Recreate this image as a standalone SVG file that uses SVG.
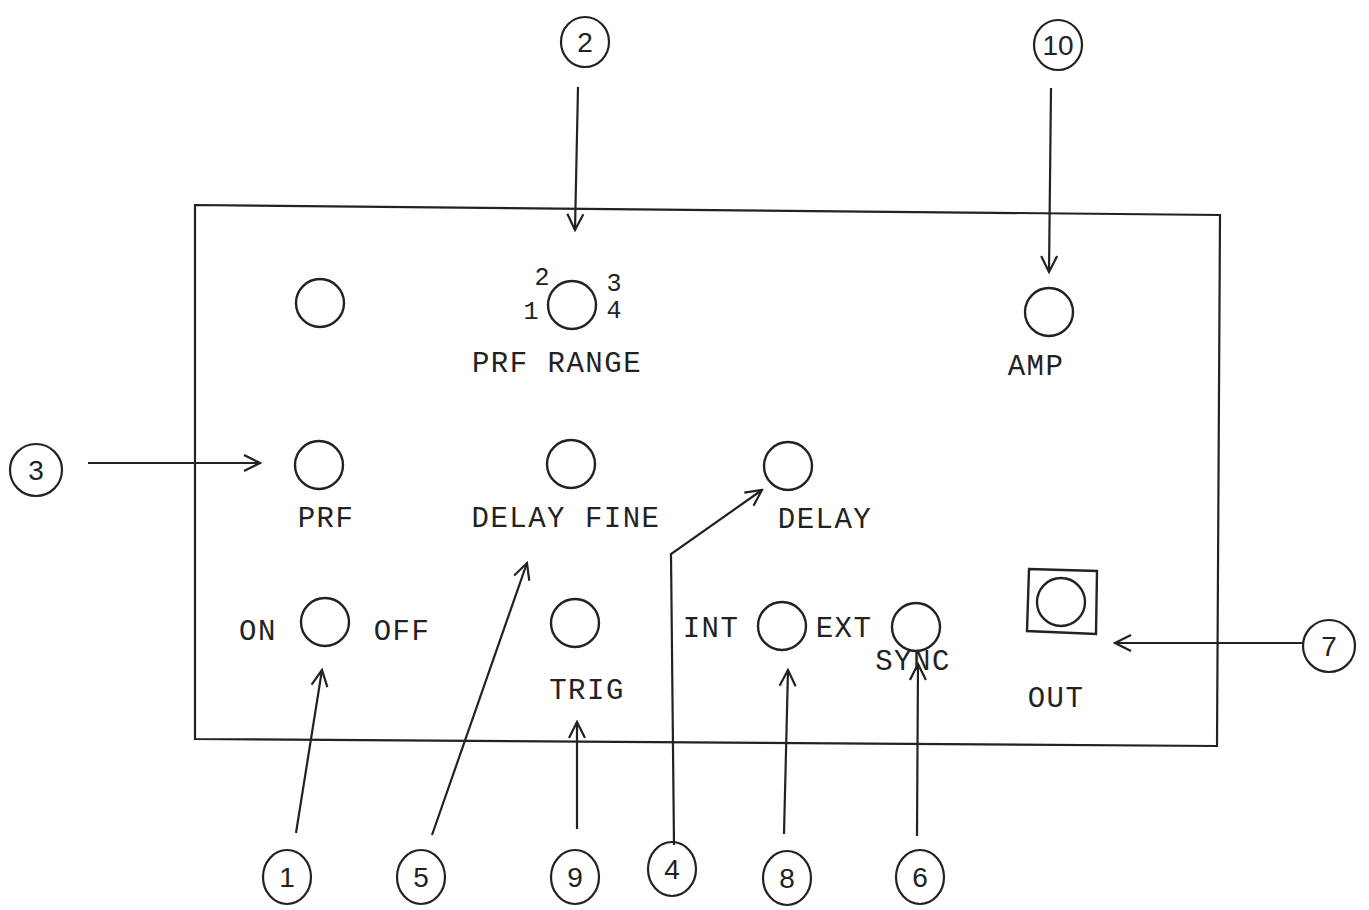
<svg xmlns="http://www.w3.org/2000/svg" width="1369" height="910" viewBox="0 0 1369 910">
<defs>
<marker id="ah" viewBox="0 0 20 20" refX="18" refY="10" markerWidth="20" markerHeight="20" markerUnits="userSpaceOnUse" orient="auto">
<path d="M2,2 L18,10 L2,18" fill="none" stroke="#222" stroke-width="2.2"/>
</marker>
<style>
.ln{fill:none;stroke:#222;stroke-width:2.2}
.knob{fill:none;stroke:#222;stroke-width:2.4}
.lbl{font-family:"Liberation Mono","Courier New",monospace;font-size:29px;letter-spacing:1.5px;fill:#222;text-anchor:middle}
.kn{font-family:"Liberation Mono","Courier New",monospace;font-size:25px;fill:#222;text-anchor:middle}
.num{font-family:"Liberation Sans Narrow","Liberation Sans",sans-serif;font-size:28px;fill:#222;text-anchor:middle}
.arr{fill:none;stroke:#222;stroke-width:2.2;marker-end:url(#ah)}
</style>
</defs>
<rect width="1369" height="910" fill="#fff"/>
<g id="panel">
<polygon class="ln" points="195,205 1220,215 1217,746 195,739"/>
</g>
<g id="knob-top-left"><circle class="knob" cx="320" cy="303" r="24"/></g>
<g id="knob-prf-range">
<circle class="knob" cx="572" cy="305" r="24"/>
<text class="kn" x="542" y="285">2</text>
<text class="kn" x="614" y="291">3</text>
<text class="kn" x="531" y="319">1</text>
<text class="kn" x="614" y="318">4</text>
<text class="lbl" x="557" y="372">PRF RANGE</text>
</g>
<g id="knob-amp">
<circle class="knob" cx="1049" cy="312" r="24"/>
<text class="lbl" x="1036" y="375">AMP</text>
</g>
<g id="knob-prf">
<circle class="knob" cx="319" cy="465" r="24"/>
<text class="lbl" x="326" y="527">PRF</text>
</g>
<g id="knob-delay-fine">
<circle class="knob" cx="571" cy="464" r="24"/>
<text class="lbl" x="566" y="527">DELAY FINE</text>
</g>
<g id="knob-delay">
<circle class="knob" cx="788" cy="466" r="24"/>
<text class="lbl" x="825" y="528">DELAY</text>
</g>
<g id="knob-on-off">
<circle class="knob" cx="325" cy="622" r="24"/>
<text class="lbl" x="258" y="640">ON</text>
<text class="lbl" x="402" y="640">OFF</text>
</g>
<g id="knob-trig">
<circle class="knob" cx="575" cy="623" r="24"/>
<text class="lbl" x="587" y="699">TRIG</text>
</g>
<g id="knob-int-ext">
<circle class="knob" cx="782" cy="626" r="24"/>
<text class="lbl" x="711" y="637">INT</text>
<text class="lbl" x="844" y="637">EXT</text>
</g>
<g id="knob-sync">
<circle class="knob" cx="916" cy="627" r="24"/>
<text class="lbl" x="913" y="670">SYNC</text>
</g>
<g id="out-jack">
<polygon class="knob" points="1029,569 1097,571 1096,634 1027,631"/>
<circle class="knob" cx="1061" cy="602" r="24"/>
<text class="lbl" x="1056" y="707">OUT</text>
</g>
<g id="callout-2"><ellipse class="ln" cx="585" cy="42" rx="24" ry="25"/><text class="num" x="585" y="52">2</text></g>
<g id="callout-10"><ellipse class="ln" cx="1058" cy="45" rx="24" ry="25"/><text class="num" x="1058" y="55">10</text></g>
<g id="callout-3"><ellipse class="ln" cx="36" cy="470" rx="26" ry="26"/><text class="num" x="36" y="480">3</text></g>
<g id="callout-7"><ellipse class="ln" cx="1329" cy="646" rx="26" ry="26"/><text class="num" x="1329" y="656">7</text></g>
<g id="callout-1"><ellipse class="ln" cx="287" cy="877" rx="24" ry="27"/><text class="num" x="287" y="887">1</text></g>
<g id="callout-5"><ellipse class="ln" cx="421" cy="877" rx="24" ry="27"/><text class="num" x="421" y="887">5</text></g>
<g id="callout-9"><ellipse class="ln" cx="575" cy="877" rx="24" ry="27"/><text class="num" x="575" y="887">9</text></g>
<g id="callout-4"><ellipse class="ln" cx="672" cy="869" rx="24" ry="27"/><text class="num" x="672" y="879">4</text></g>
<g id="callout-8"><ellipse class="ln" cx="787" cy="878" rx="24" ry="27"/><text class="num" x="787" y="888">8</text></g>
<g id="callout-6"><ellipse class="ln" cx="920" cy="877" rx="24" ry="27"/><text class="num" x="920" y="887">6</text></g>
<g id="connectors">
<path class="arr" d="M578,87 L575,230"/>
<path class="arr" d="M1051,88 L1049,272"/>
<path class="arr" d="M88,463 L260,463"/>
<path class="arr" d="M1304,643 L1115,643"/>
<path class="arr" d="M296,833 L322,670"/>
<path class="arr" d="M432,835 L527,563"/>
<path class="arr" d="M577,829 L577,722"/>
<path class="arr" d="M674,845 L671,554 L762,490"/>
<path class="arr" d="M784,834 L788,670"/>
<path class="arr" d="M917,836 L918,664"/>
</g>
</svg>
